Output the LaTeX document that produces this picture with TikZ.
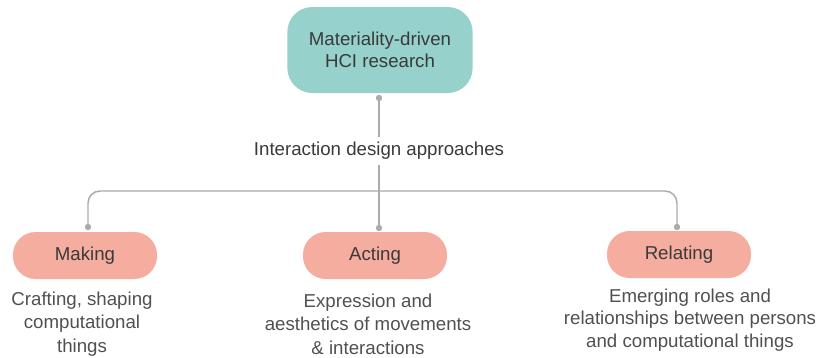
\documentclass[tikz,border=0pt]{standalone}
\usepackage{fontspec}
\setmainfont{Liberation Sans}
\definecolor{tealc}{HTML}{96D1CB}
\definecolor{salmonc}{HTML}{F4AD9E}
\definecolor{boxtext}{HTML}{3A3A3A}
\definecolor{desctext}{HTML}{505050}
\definecolor{linec}{HTML}{ABABAB}
\begin{document}
\begin{tikzpicture}[x=0.75pt,y=-0.75pt,
  topbox/.style={fill=tealc, rounded corners=18.75pt, minimum width=139pt, minimum height=64.5pt,
    text=boxtext, align=center, inner sep=0pt, font=\fontsize{14}{16.5}\selectfont},
  pill/.style={fill=salmonc, rounded corners=17pt, minimum width=108pt, minimum height=35.25pt,
    text=boxtext, inner sep=0pt, font=\fontsize{14}{16.5}\selectfont},
  desc/.style={text=desctext, align=center, inner sep=0pt, font=\fontsize{14}{17.5}\selectfont},
  desctight/.style={text=desctext, align=center, inner sep=0pt, font=\fontsize{14}{17}\selectfont},
  conn/.style={draw=linec, line width=1.1pt},
  dotc/.style={fill=linec}
]
\useasboundingbox (0,0) rectangle (824,357);

\node[topbox] (top) at (380,50) {Materiality-driven\\HCI research};
\node[pill] (making) at (85,255.5) {Making};
\node[pill] (acting) at (375,255.5) {Acting};
\node[pill] (relating) at (679,254.5) {Relating};

\coordinate (tdot) at (379,98);
\coordinate (hbar) at (379,191);
\coordinate (mdot) at (88,227);
\coordinate (adot) at (379,228);
\coordinate (rdot) at (677,227);

\draw[conn] (tdot) -- (adot);
\draw[conn, rounded corners=9pt] (mdot) |- (hbar) -| (rdot);
\foreach \p in {tdot,mdot,adot,rdot} \fill[dotc] (\p) circle (2.4pt);

\node[fill=white, text=boxtext, inner xsep=2pt, inner ysep=4pt, font=\fontsize{14}{16.5}\selectfont] (label) at (379,151) {Interaction design approaches};

\node[desc] (makingd) at (82,324) {Crafting, shaping\\computational\\things};
\node[desc] (actingd) at (368,324) {Expression and\\aesthetics of movements\\\& interactions};
\node[desctight] (relatingd) at (690,320) {Emerging roles and\\relationships between persons\\and computational things};
\end{tikzpicture}
\end{document}
